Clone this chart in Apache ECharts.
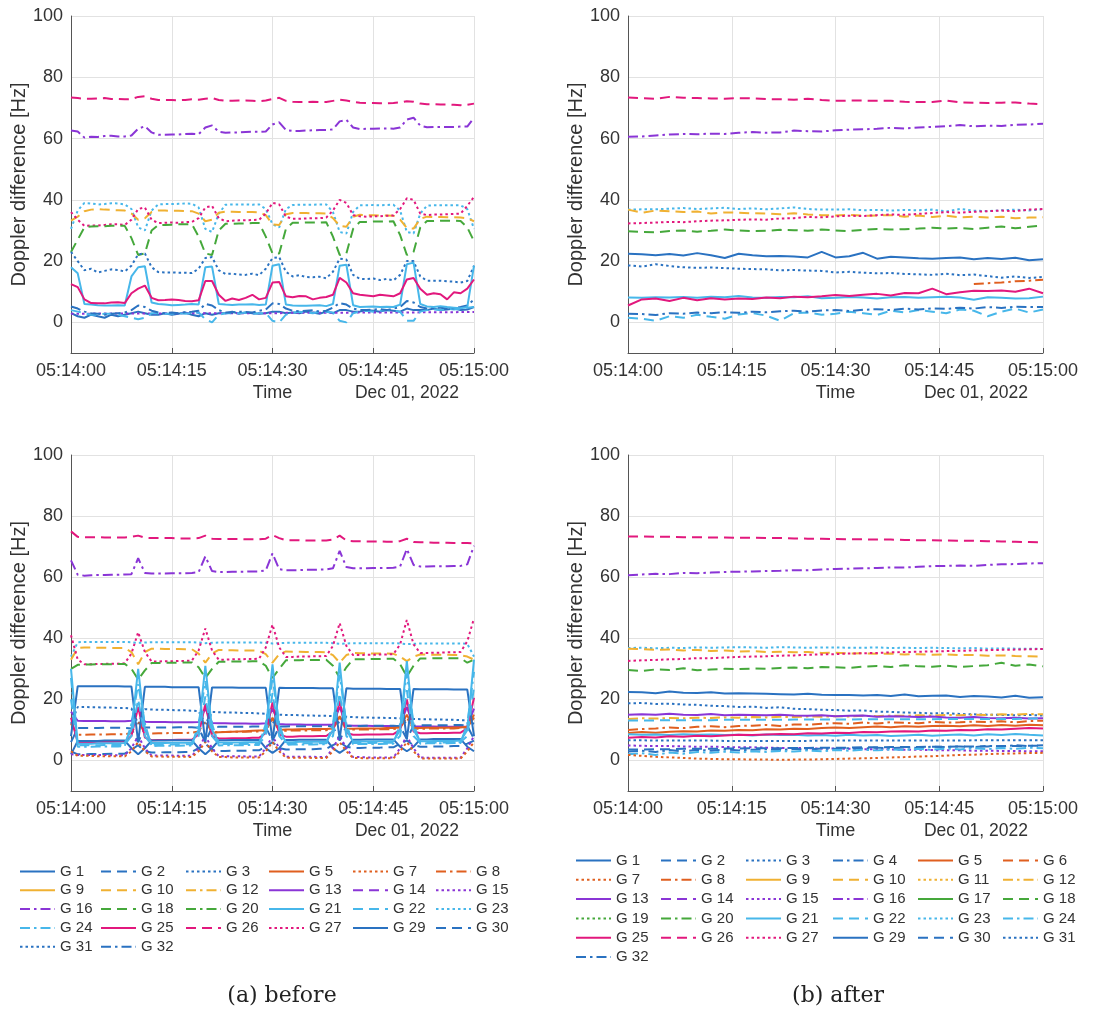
<!DOCTYPE html>
<html>
<head>
<meta charset="utf-8">
<script src="https://cdn.jsdelivr.net/npm/echarts@6/dist/echarts.min.js"></script>
<style>
  html, body { margin: 0; padding: 0; background: #ffffff; }
  #chart { width: 1105px; height: 1012px; }
</style>
</head>
<body>
<div id="chart"></div>
<script>
// Sample times in seconds after 05:14:00 (1 s epochs before, 2 s epochs after)
const secBefore = [0,1,2,3,4,5,6,7,8,9,10,11,12,13,14,15,16,17,18,19,20,21,22,23,24,25,26,27,28,29,30,
  31,32,33,34,35,36,37,38,39,40,41,42,43,44,45,46,47,48,49,50,51,52,53,54,55,56,57,58,59,60];
const secAfter = [0,2,4,6,8,10,12,14,16,18,20,22,24,26,28,30,32,34,36,38,40,42,44,46,48,50,52,54,56,58,60];

const timeTicks = ['05:14:00', '05:14:15', '05:14:30', '05:14:45', '05:15:00'];
const yTicks = [0, 20, 40, 60, 80, 100];
const dateLabel = 'Dec 01, 2022';
const captions = ['(a) before', '(b) after'];

// ---- (a) before, upper panel: Doppler difference [Hz] ----
const tlG26 = [73.4,73.2,73.0,73.0,73.1,73.2,72.9,72.9,72.8,72.9, 73.6,73.8,73.0,72.6,72.6,72.6,72.5,72.6,72.8,72.7, 73.0,73.2,72.6,72.3,72.3,72.4,72.4,72.3,72.2,72.4, 72.9,73.3,72.3,72.0,71.9,71.9,72.0,71.9,71.9,72.3, 72.7,72.4,72.0,71.7,71.6,71.6,71.5,71.5,71.6,71.8, 72.2,72.0,71.4,71.2,71.2,71.1,71.1,71.0,70.9,71.0, 71.4];
const tlG16 = [62.6,62.3,60.3,60.6,60.5,60.8,60.9,60.7,60.7,61.0, 63.2,64.0,62.0,61.2,61.2,61.3,61.3,61.5,61.6,61.4, 63.6,64.3,62.2,61.9,62.0,62.0,62.1,62.2,62.2,62.3, 64.6,65.3,62.8,62.5,62.5,62.6,62.7,62.8,62.8,63.0, 65.6,66.1,63.6,63.1,63.2,63.2,63.3,63.3,63.2,63.6, 66.2,66.8,64.2,63.7,63.8,63.8,63.8,63.8,63.9,63.9, 66.8];
const tlG23 = [30.5,36.5,39.0,38.8,38.5,38.6,38.9,38.8,38.5,37.0, 31.0,30.0,36.5,38.5,38.6,38.6,38.7,38.8,38.7,37.5, 30.5,29.5,35.5,38.4,38.5,38.5,38.5,38.4,38.5,37.0, 32.0,31.0,37.0,38.3,38.4,38.4,38.4,38.5,38.5,36.0, 29.5,29.0,36.0,38.2,38.2,38.3,38.2,38.3,38.4,36.5, 29.5,29.0,35.5,38.1,38.2,38.2,38.2,38.2,38.2,37.0, 30.5];
const tlG10 = [33.2,34.5,36.3,36.8,37.0,36.8,36.7,36.6,36.5,35.5, 33.5,34.0,36.0,36.5,36.5,36.4,36.4,36.3,36.3,35.5, 33.0,33.5,35.8,36.1,36.1,36.0,36.0,36.0,35.9,35.0, 32.0,31.8,35.3,35.7,35.7,35.7,35.6,35.6,35.5,34.0, 31.5,31.2,34.5,35.1,35.0,35.0,34.9,34.9,34.8,33.5, 30.8,30.6,33.8,34.5,34.4,34.4,34.3,34.3,34.2,34.0, 33.0];
const tlG27 = [36.0,33.5,31.5,31.6,31.6,31.8,32.0,32.0,31.8,33.5, 37.0,37.5,33.5,32.4,32.5,32.6,32.5,32.7,32.8,34.0, 37.5,38.0,34.0,33.0,33.2,33.3,33.3,33.4,33.5,35.5, 39.0,38.5,34.5,33.8,33.8,33.9,34.0,34.0,34.2,36.5, 40.0,39.0,35.0,34.6,34.5,34.6,34.6,34.8,34.9,37.0, 40.5,40.0,35.5,35.0,35.2,35.2,35.3,35.4,35.5,38.0, 41.0];
const tlG18 = [23.0,27.0,31.0,31.3,31.4,31.4,31.5,31.6,31.5,27.5, 22.0,22.5,30.0,31.8,31.8,31.9,32.0,32.0,32.1,28.0, 22.5,22.0,30.0,32.2,32.2,32.3,32.3,32.4,32.4,28.0, 22.5,22.5,30.5,32.5,32.5,32.6,32.6,32.6,32.7,28.0, 22.0,22.5,30.5,32.8,32.8,32.9,32.9,32.9,33.0,28.5, 22.0,23.0,31.0,33.1,33.1,33.2,33.2,33.2,33.1,31.0, 26.5];
const tlG31 = [23.0,20.0,17.0,17.5,16.3,16.8,17.3,17.1,16.6,18.5, 22.2,22.5,18.0,16.4,16.3,16.3,16.2,16.2,16.1,17.5, 21.0,21.3,17.0,15.8,15.9,15.6,15.5,15.9,15.4,17.5, 21.0,21.3,16.5,15.0,15.4,14.8,14.7,14.9,14.4,16.5, 20.8,20.5,15.5,14.2,14.1,14.3,13.8,14.2,13.7,15.5, 20.0,20.0,15.0,13.6,13.6,13.6,13.4,13.3,13.0,13.5, 18.5];
const tlG21 = [18.0,16.0,6.0,5.8,5.6,5.5,5.5,5.6,5.5,15.0, 18.0,18.3,6.5,6.0,5.8,5.6,5.7,5.8,6.0,5.8, 18.0,18.2,6.0,5.8,5.7,5.8,5.8,5.9,5.7,5.8, 18.5,19.0,5.8,5.5,5.4,5.4,5.5,5.6,5.3,6.0, 18.5,18.8,5.6,5.0,5.1,5.2,5.0,5.1,5.0,5.8, 19.0,19.5,6.0,5.2,5.0,5.3,5.0,4.8,4.6,5.0, 18.5];
const tlG25 = [12.5,11.5,7.5,6.3,6.2,6.2,6.5,6.6,6.3,9.5, 11.0,12.0,8.0,7.2,7.3,7.5,7.3,7.0,6.9,7.2, 13.5,13.5,9.0,7.0,7.8,7.3,8.0,9.0,7.5,8.0, 13.0,13.2,8.5,8.2,8.6,8.5,7.5,8.0,8.3,9.0, 14.5,13.0,9.5,9.0,8.8,8.5,9.0,8.8,8.5,9.5, 14.0,14.5,11.0,9.0,9.5,9.2,7.5,9.8,9.5,11.0, 14.0];
const tlG32 = [5.2,4.5,3.5,3.0,2.8,2.5,2.8,3.0,3.2,4.0, 5.5,5.0,3.8,3.2,3.0,3.2,3.0,3.3,3.5,3.8, 6.0,5.5,4.0,3.2,3.2,3.5,3.4,3.2,3.8,4.2, 6.2,6.0,4.5,3.8,3.6,3.8,4.0,3.5,3.8,4.8, 6.3,5.8,4.5,4.0,4.0,4.2,4.3,4.0,4.5,5.0, 7.0,6.5,5.0,4.5,4.8,4.8,4.5,4.6,5.0,5.5, 7.5];
const tlG15 = [2.8,2.8,2.8,2.8,2.9,2.9,2.9,2.9,2.9,2.9, 2.9,2.9,2.9,2.9,2.9,3.0,3.0,3.0,3.0,3.0, 3.0,3.0,3.0,3.0,3.0,3.0,3.0,3.0,3.0,3.0, 3.0,3.0,3.1,3.1,3.1,3.1,3.1,3.1,3.1,3.1, 3.1,3.1,3.2,3.2,3.2,3.2,3.2,3.2,3.2,3.2, 3.2,3.2,3.3,3.3,3.3,3.3,3.3,3.3,3.4,3.4, 3.4];
const tlG22 = [4.0,3.5,3.0,2.5,2.5,2.8,2.8,2.5,2.0,1.5, 1.0,1.5,3.0,3.0,2.8,2.8,3.0,2.8,3.0,3.2, 1.0,0.0,2.5,3.0,3.0,3.0,3.2,2.8,3.0,3.0, 0.5,0.0,2.5,3.2,3.5,3.2,3.0,3.5,3.5,3.2, 0.5,0.0,3.0,3.5,3.8,3.5,3.8,4.0,3.8,3.5, 0.5,0.5,3.5,4.0,4.2,4.0,4.5,4.2,4.5,4.8, 5.0];
const tlG1 = [3.0,2.0,1.5,2.5,2.0,1.5,2.5,2.0,2.5,3.0, 3.5,3.0,2.5,2.5,3.0,2.5,2.8,3.2,2.5,2.0, 3.0,2.5,3.0,3.0,3.5,2.8,3.2,3.0,2.8,3.0, 3.5,3.5,3.0,3.2,3.0,3.5,3.2,2.8,3.5,3.0, 4.0,4.0,3.5,3.5,4.0,3.8,3.5,4.0,3.8,3.5, 4.5,4.0,4.0,4.0,4.5,4.0,4.2,4.5,4.0,4.2, 5.0];

// ---- (a) before, lower panel ----
const blG26 = [75.0,73.2,73.1,73.1,73.1,73.0,73.0,73.0,73.0,73.2, 73.6,72.9,72.8,72.8,72.8,72.8,72.7,72.7,72.7,72.8, 73.6,72.6,72.5,72.5,72.5,72.5,72.4,72.4,72.4,72.6, 73.8,72.8,72.1,72.1,72.1,72.0,72.0,72.0,72.0,72.3, 73.6,72.0,71.8,71.8,71.7,71.7,71.7,71.6,71.6,71.8, 72.6,71.5,71.4,71.4,71.3,71.3,71.3,71.2,71.2,71.2, 71.1];
const blG16 = [65.5,60.8,60.5,60.6,60.7,60.7,60.8,60.8,60.9,61.0, 66.2,61.4,61.2,61.2,61.2,61.3,61.3,61.3,61.4,61.6, 66.8,62.0,61.7,61.7,61.8,61.8,61.8,61.9,61.9,62.2, 67.8,62.6,62.3,62.3,62.3,62.4,62.4,62.5,62.5,62.9, 68.6,63.3,62.9,62.9,62.9,63.0,63.0,63.0,63.1,63.5, 69.2,64.0,63.5,63.5,63.6,63.6,63.6,63.7,63.7,64.2, 70.3];
const blG23 = [34.0,38.7,38.8,38.8,38.8,38.8,38.8,38.8,38.8,38.7, 38.5,38.6,38.7,38.7,38.7,38.7,38.7,38.7,38.7,38.6, 38.4,38.5,38.6,38.6,38.6,38.6,38.6,38.6,38.6,38.5, 38.3,38.4,38.5,38.5,38.5,38.5,38.5,38.5,38.5,38.4, 38.2,38.3,38.4,38.4,38.4,38.4,38.4,38.4,38.4,38.3, 38.1,38.2,38.3,38.3,38.3,38.3,38.3,38.3,38.3,38.2, 34.0];
const blG10 = [33.0,36.8,37.0,37.0,36.9,36.9,36.8,36.8,36.8,35.5, 31.5,35.5,36.6,36.6,36.5,36.5,36.5,36.4,36.4,35.0, 32.0,35.0,36.2,36.1,36.1,36.0,36.0,36.0,35.9,34.8, 32.0,34.8,35.7,35.6,35.6,35.5,35.5,35.5,35.4,34.5, 32.0,34.5,35.2,35.1,35.1,35.0,35.0,35.0,34.9,34.0, 32.5,34.0,34.7,34.7,34.6,34.6,34.6,34.5,34.5,34.0, 33.0];
const blG27 = [41.0,33.0,31.5,31.5,31.6,31.6,31.7,31.7,31.8,35.0, 42.0,35.5,32.4,32.4,32.5,32.5,32.6,32.6,32.7,36.0, 43.2,36.0,33.0,33.0,33.1,33.1,33.2,33.2,33.3,37.0, 44.5,37.0,33.9,33.9,34.0,34.0,34.1,34.1,34.2,37.5, 45.0,37.5,34.5,34.5,34.6,34.6,34.7,34.7,34.8,38.0, 46.0,38.0,35.2,35.2,35.3,35.3,35.4,35.4,35.5,39.0, 46.5];
const blG18 = [30.0,31.3,31.4,31.4,31.5,31.5,31.5,31.6,31.6,30.0, 26.5,29.5,31.9,31.9,32.0,32.0,32.0,32.1,32.1,30.5, 27.0,30.0,32.3,32.3,32.4,32.4,32.4,32.5,32.5,31.0, 27.0,30.0,32.8,32.8,32.8,32.9,32.9,32.9,33.0,31.0, 27.0,30.5,33.1,33.1,33.2,33.2,33.2,33.3,33.3,31.5, 27.5,31.0,33.4,33.4,33.5,33.5,33.5,33.5,33.5,32.0, 33.0];
const blG29 = [8.0,24.3,24.3,24.3,24.3,24.3,24.3,24.3,24.2,24.2, 6.0,24.1,24.1,24.1,24.1,24.0,24.0,24.0,24.0,24.0, 6.0,23.9,23.9,23.9,23.9,23.8,23.8,23.8,23.8,23.8, 6.5,23.8,23.7,23.7,23.7,23.7,23.7,23.6,23.6,23.6, 7.0,23.6,23.5,23.5,23.5,23.5,23.5,23.4,23.4,23.4, 7.0,23.4,23.3,23.3,23.3,23.3,23.3,23.2,23.2,23.2, 8.0];
const blG31 = [12.0,17.5,17.5,17.4,17.4,17.3,17.3,17.2,17.2,17.0, 12.0,16.8,16.7,16.6,16.6,16.5,16.4,16.4,16.3,16.1, 12.0,15.9,15.8,15.7,15.7,15.6,15.5,15.5,15.4,15.3, 12.0,15.0,14.9,14.9,14.8,14.7,14.7,14.6,14.6,14.5, 12.0,14.3,14.2,14.1,14.1,14.0,14.0,13.9,13.9,13.8, 12.0,13.6,13.5,13.5,13.4,13.4,13.3,13.3,13.2,13.2, 12.0];
const blG13 = [16.0,13.0,12.9,12.9,12.9,12.9,12.8,12.8,12.8,13.0, 17.0,12.7,12.6,12.6,12.6,12.5,12.5,12.5,12.5,12.6, 17.0,12.3,12.2,12.2,12.1,12.1,12.1,12.0,12.0,12.2, 17.0,11.9,11.8,11.8,11.8,11.7,11.7,11.7,11.7,11.8, 17.5,11.5,11.4,11.4,11.4,11.3,11.3,11.3,11.3,11.4, 17.5,11.2,11.1,11.1,11.1,11.0,11.0,11.0,11.0,11.1, 17.0];
const blG30 = [6.0,10.6,10.6,10.6,10.6,10.7,10.7,10.7,10.7,10.5, 6.0,10.8,10.8,10.8,10.8,10.8,10.9,10.9,10.9,10.7, 6.0,10.9,11.0,11.0,11.0,11.0,11.0,11.1,11.1,10.9, 6.5,11.1,11.1,11.2,11.2,11.2,11.2,11.2,11.3,11.1, 6.5,11.3,11.3,11.3,11.4,11.4,11.4,11.4,11.4,11.2, 7.0,11.4,11.5,11.5,11.5,11.5,11.5,11.6,11.6,11.4, 7.0];
const blG8 = [12.0,8.4,8.4,8.5,8.5,8.5,8.6,8.6,8.6,9.0, 13.0,8.8,8.8,8.9,8.9,9.0,9.0,9.0,9.1,9.5, 13.0,9.2,9.3,9.3,9.4,9.4,9.4,9.5,9.5,10.0, 13.5,9.7,9.7,9.8,9.8,9.8,9.9,9.9,9.9,10.3, 14.0,10.0,10.1,10.1,10.1,10.2,10.2,10.2,10.3,10.6, 14.0,10.4,10.4,10.4,10.5,10.5,10.5,10.5,10.6,10.8, 14.0];
const blG5 = [null,null,null,null,null,null,null,null,null,null, null,null,null,null,null,null,null,null,null,null, null,9.0,9.2,9.3,9.4,9.5,9.6,9.7,9.8,9.9, 14.0,10.0,10.1,10.1,10.2,10.2,10.3,10.3,10.3,10.5, 14.5,10.4,10.4,10.5,10.5,10.5,10.5,10.6,10.6,10.8, 15.0,10.6,10.6,10.7,10.7,10.7,10.7,10.8,10.8,11.0, 15.0];
const blG25 = [14.0,6.0,6.0,6.0,6.1,6.1,6.1,6.2,6.2,8.0, 17.5,7.5,6.6,6.7,6.7,6.7,6.8,6.8,6.8,8.5, 18.5,8.0,7.2,7.2,7.3,7.3,7.3,7.4,7.4,9.0, 19.0,8.5,7.8,7.8,7.9,7.9,7.9,8.0,8.0,9.5, 19.5,9.0,8.4,8.4,8.5,8.5,8.5,8.6,8.6,10.0, 20.0,9.5,8.9,8.9,9.0,9.0,9.0,9.1,9.1,10.5, 20.5];
const blG21 = [30.0,5.5,5.5,5.5,5.6,5.6,5.6,5.6,5.7,10.0, 30.0,10.0,5.7,5.7,5.7,5.8,5.8,5.8,5.8,10.0, 31.0,10.0,5.9,5.9,5.9,5.9,6.0,6.0,6.0,10.0, 31.5,10.0,6.0,6.0,6.1,6.1,6.1,6.1,6.1,10.0, 32.0,10.0,6.2,6.2,6.2,6.2,6.3,6.3,6.3,10.0, 32.5,10.0,6.3,6.3,6.4,6.4,6.4,6.4,6.5,10.0, 33.0];
const blG24 = [27.0,4.5,4.5,4.5,4.6,4.6,4.6,4.6,4.7,12.0, 25.0,12.0,4.7,4.8,4.8,4.8,4.8,4.9,4.9,12.0, 26.0,12.0,4.9,5.0,5.0,5.0,5.0,5.1,5.1,12.0, 27.0,12.0,5.1,5.2,5.2,5.2,5.2,5.3,5.3,12.0, 28.0,12.0,5.3,5.4,5.4,5.4,5.4,5.5,5.5,12.0, 28.5,12.0,5.5,5.6,5.6,5.6,5.6,5.7,5.7,12.0, 29.0];
const blG22 = [20.0,5.0,5.0,5.0,5.0,5.1,5.1,5.1,5.1,8.0, 20.0,8.0,5.2,5.2,5.2,5.2,5.3,5.3,5.3,8.0, 21.0,8.0,5.3,5.4,5.4,5.4,5.4,5.5,5.5,8.0, 22.0,8.0,5.5,5.5,5.6,5.6,5.6,5.6,5.6,8.0, 22.0,8.0,5.7,5.7,5.7,5.7,5.8,5.8,5.8,8.0, 23.0,8.0,5.8,5.8,5.9,5.9,5.9,5.9,6.0,8.0, 24.0];
const blG1 = [2.0,6.4,6.4,6.4,6.4,6.5,6.5,6.5,6.5,4.0, 2.0,4.0,6.5,6.5,6.5,6.6,6.6,6.6,6.6,4.0, 2.0,4.0,6.6,6.6,6.7,6.7,6.7,6.7,6.7,4.0, 2.5,4.0,6.7,6.7,6.8,6.8,6.8,6.8,6.8,4.0, 2.5,4.0,6.8,6.8,6.9,6.9,6.9,6.9,6.9,4.5, 3.0,4.5,6.9,6.9,7.0,7.0,7.0,7.0,7.0,4.5, 3.0];
const blG2 = [3.0,2.0,2.0,2.1,2.1,2.1,2.2,2.2,2.2,3.5, 5.0,3.0,2.6,2.6,2.7,2.7,2.7,2.8,2.8,4.0, 5.5,3.5,3.1,3.1,3.2,3.2,3.2,3.3,3.3,4.5, 6.0,4.0,3.6,3.6,3.7,3.7,3.7,3.8,3.8,5.0, 6.0,4.5,4.1,4.1,4.2,4.2,4.2,4.3,4.3,5.5, 6.5,5.0,4.5,4.5,4.6,4.6,4.6,4.7,4.7,5.5, 6.5];
const blG15 = [2.0,1.8,1.8,1.8,1.8,1.8,1.7,1.7,1.7,4.0, 8.0,4.0,1.6,1.6,1.6,1.6,1.5,1.5,1.5,4.0, 8.0,4.0,1.4,1.4,1.4,1.4,1.3,1.3,1.3,4.0, 8.0,4.0,1.2,1.2,1.2,1.2,1.2,1.1,1.1,4.0, 8.0,4.0,1.1,1.1,1.0,1.0,1.0,1.0,1.0,4.0, 8.0,4.0,1.0,0.9,0.9,0.9,0.9,0.9,0.9,4.0, 8.0];
const blG7 = [3.0,1.5,1.5,1.5,1.4,1.4,1.4,1.4,1.3,3.0, 6.0,3.0,1.3,1.3,1.2,1.2,1.2,1.2,1.1,3.0, 6.0,3.0,1.1,1.1,1.0,1.0,1.0,1.0,1.0,3.0, 6.0,3.0,0.9,0.9,0.9,0.9,0.8,0.8,0.8,3.0, 6.0,3.0,0.8,0.8,0.7,0.7,0.7,0.7,0.7,3.0, 6.0,3.0,0.7,0.6,0.6,0.6,0.6,0.6,0.6,3.0, 6.0];

// ---- (b) after, upper panel ----
const trG26 = [73.4,73.2,73.0,73.6,73.3,73.2,73.1,73.0,73.2,73.1, 72.9,72.8,72.7,73.0,72.6,72.3,72.4,72.4,72.3,72.3, 72.0,71.9,71.9,72.4,71.8,71.7,71.6,71.7,71.8,71.4, 71.2];
const trG16 = [60.6,60.7,61.0,61.3,61.5,61.4,61.6,61.5,61.9,62.1, 61.9,62.0,62.6,62.4,62.3,62.7,62.9,63.0,63.2,63.5, 63.3,63.6,63.8,64.0,64.4,64.0,64.2,64.1,64.5,64.6, 64.8];
const trG23 = [36.8,36.9,36.9,37.1,37.3,37.0,37.2,37.4,37.0,37.2, 36.9,37.2,37.5,37.0,36.8,36.8,36.9,36.6,36.7,36.5, 36.7,36.6,36.8,36.2,37.0,36.5,36.3,36.6,36.8,36.5, 37.0];
const trG10 = [36.8,35.8,36.5,36.3,36.0,36.2,35.5,35.9,35.8,35.6, 35.5,35.3,35.6,35.2,35.0,34.9,35.1,34.8,34.9,35.0, 34.5,34.9,34.4,34.8,34.3,34.5,34.2,34.5,34.0,34.2, 34.3];
const trG27 = [32.3,32.4,32.6,32.8,32.7,33.0,33.2,33.3,33.5,33.6, 33.5,33.9,34.0,34.4,34.3,34.6,34.8,34.7,35.0,35.2, 35.1,35.4,35.7,36.0,35.8,36.1,36.3,36.5,36.3,36.8, 37.0];
const trG18 = [29.7,29.5,29.4,29.8,30.0,29.6,29.9,30.3,30.0,29.8, 29.9,30.2,30.1,29.9,30.3,30.0,29.8,30.2,30.5,30.3, 30.4,30.6,30.9,30.6,30.8,30.5,30.9,31.3,30.7,31.2, 31.6];
const trG29 = [22.4,22.2,21.9,22.3,21.8,22.6,21.9,21.0,22.4,21.9, 21.6,21.7,21.5,21.2,23.0,21.2,21.6,22.7,20.8,21.4, 21.2,20.9,20.8,21.0,21.2,20.6,21.0,20.7,21.1,20.3, 20.6];
const trG31 = [18.6,18.2,19.0,18.4,18.0,17.8,17.9,17.7,17.5,17.4, 17.3,17.0,17.1,16.9,16.8,16.3,16.5,16.2,16.0,16.1, 15.8,15.7,15.5,15.9,15.4,15.6,15.1,14.6,15.0,14.5, 14.8];
const trG8 = [null,null,null,null,null,null,null,null,null,null, null,null,null,null,null,null,null,null,null,null, null,null,null,null,null,12.5,12.8,13.0,13.4,13.6, 13.9];
const trG25 = [5.5,7.5,7.8,7.0,8.0,7.2,7.9,7.5,7.8,7.6, 8.1,7.9,8.4,8.2,8.5,8.9,8.6,9.0,9.3,8.8, 9.6,9.5,11.0,9.2,9.8,10.3,10.2,10.4,10.0,11.0, 9.5];
const trG21 = [8.1,8.0,8.2,8.1,8.3,8.0,8.4,8.2,8.6,8.1, 8.0,8.3,8.2,8.5,7.9,8.0,8.3,8.1,7.8,8.2, 8.3,8.0,8.2,8.4,8.1,7.4,8.2,8.0,7.8,7.9, 8.4];
const trG32 = [2.8,2.7,2.4,3.0,2.8,3.2,3.0,3.3,3.1,3.5, 3.3,3.6,3.8,3.5,3.9,4.0,3.7,4.1,4.3,4.0, 4.5,4.2,4.6,4.4,4.8,4.5,5.0,4.7,5.1,5.0, 5.0];
const trG22 = [1.5,1.2,0.5,2.0,1.5,2.5,1.8,1.2,2.6,3.0, 2.2,0.5,3.0,3.2,2.5,2.8,3.5,3.0,2.4,3.8, 3.2,4.0,3.5,3.0,4.2,3.8,2.0,3.5,4.5,3.2, 4.2];

// ---- (b) after, lower panel ----
const brG26 = [73.3,73.3,73.2,73.2,73.1,73.1,73.0,73.0,72.9,72.9, 72.8,72.8,72.7,72.6,72.6,72.5,72.4,72.4,72.3,72.3, 72.2,72.1,72.1,72.0,71.9,71.9,71.8,71.7,71.6,71.5, 71.4];
const brG16 = [60.6,60.9,61.1,61.0,61.4,61.3,61.5,61.7,61.8,61.9, 62.0,62.1,62.3,62.3,62.5,62.7,62.8,62.9,63.0,63.2, 63.2,63.4,63.6,63.7,63.8,63.7,64.0,64.2,64.3,64.5, 64.6];
const brG23 = [36.8,36.9,36.7,36.9,36.8,37.0,36.9,37.0,37.1,37.0, 36.9,37.1,37.0,36.9,37.0,37.0,36.9,36.9,37.0,36.8, 36.9,36.8,36.9,36.8,36.7,36.8,36.6,36.7,36.6,36.6, 36.5];
const brG10 = [36.6,36.4,36.2,36.3,36.0,36.2,35.8,36.0,35.7,35.8, 35.5,35.6,35.4,35.5,35.2,35.3,35.0,35.1,34.9,35.0, 34.7,34.8,34.6,34.7,34.5,34.5,34.3,34.4,34.2,34.1, 34.0];
const brG27 = [32.6,32.8,32.9,33.1,33.2,33.5,33.5,33.7,33.9,34.0, 34.1,34.3,34.4,34.6,34.7,34.8,35.0,35.1,35.2,35.4, 35.5,35.6,35.7,35.8,35.9,36.0,36.1,36.2,36.3,36.4, 36.5];
const brG18 = [29.6,29.3,29.8,29.6,30.2,29.5,29.8,30.0,29.9,30.1, 30.0,30.3,30.4,30.2,30.6,30.5,30.3,30.7,30.9,30.6, 31.2,30.8,30.7,31.0,30.6,30.9,31.2,32.0,31.0,31.4, 30.8];
const brG29 = [22.4,22.3,22.0,22.6,22.2,22.1,22.3,21.9,22.0,21.9, 21.8,21.7,21.6,21.8,21.5,21.4,21.4,21.3,21.4,21.1, 21.6,21.0,21.2,21.3,20.8,21.1,20.9,20.6,21.2,20.5, 20.7];
const brG31 = [18.7,18.8,18.5,18.6,18.3,18.2,17.9,17.8,17.5,17.6, 17.2,17.4,16.9,16.8,16.6,16.5,16.3,16.4,16.0,15.9, 15.7,15.6,15.4,15.5,15.2,15.1,15.0,14.9,14.8,14.9, 14.7];
const brG13 = [15.0,15.1,15.0,15.3,15.0,14.9,15.2,14.8,15.0,14.9, 14.8,15.0,14.7,14.6,14.8,14.5,14.6,14.7,14.3,14.5, 14.4,14.2,14.4,14.1,14.0,14.2,13.9,13.8,14.0,13.7, 13.8];
const brG12 = [13.6,13.8,13.7,13.9,13.8,14.0,13.9,14.1,14.0,14.2, 14.1,14.3,14.2,14.4,14.3,14.5,14.4,14.6,14.5,14.7, 14.6,14.8,14.7,14.9,14.8,15.0,14.9,15.1,15.0,15.2, 15.1];
const brG22 = [13.1,13.1,13.1,13.2,13.2,13.2,13.2,13.3,13.3,13.3, 13.3,13.3,13.4,13.4,13.4,13.4,13.4,13.5,13.5,13.5, 13.5,13.5,13.5,13.6,13.6,13.6,13.6,13.6,13.6,13.7, 13.7];
const brG8 = [10.0,10.3,10.5,10.8,10.6,11.0,11.2,10.9,11.3,11.4, 11.6,11.3,11.8,11.7,12.0,12.2,12.0,12.4,12.1,12.5, 12.3,12.2,12.6,12.4,12.5,12.7,12.6,12.8,12.5,12.9, 13.0];
const brG5 = [9.0,9.3,9.1,9.4,9.6,9.5,9.8,9.7,10.0,9.9, 10.2,10.1,10.4,10.3,10.6,10.8,10.6,10.9,11.1,10.9, 11.2,11.0,11.3,11.4,11.2,11.5,11.3,11.6,11.4,11.7, 11.5];
const brG25 = [7.4,7.7,7.5,7.9,7.8,8.1,7.9,8.2,8.4,8.3, 8.5,8.7,8.6,8.9,8.8,9.1,9.0,9.3,9.2,9.5, 9.6,9.5,9.8,9.7,10.0,9.9,10.2,10.1,10.4,10.6, 10.5];
const brG21 = [8.6,8.4,8.5,8.3,8.6,8.4,8.5,8.3,8.4,8.2, 8.5,8.3,8.4,8.2,8.3,8.1,8.4,8.2,8.3,8.0, 8.2,8.4,8.1,8.3,8.5,8.2,8.6,8.3,8.7,8.4, 8.2];
const brG3 = [6.6,6.6,6.5,6.5,6.5,6.5,6.5,6.4,6.4,6.4, 6.4,6.4,6.4,6.4,6.5,6.5,6.5,6.5,6.5,6.5, 6.5,6.5,6.5,6.5,6.5,6.6,6.6,6.6,6.6,6.6, 6.6];
const brG15 = [4.9,4.8,4.7,4.7,4.6,4.5,4.5,4.4,4.3,4.3, 4.2,4.1,4.1,4.0,3.9,3.9,3.8,3.7,3.7,3.6, 3.5,3.5,3.4,3.3,3.3,3.2,3.2,3.1,3.1,3.0, 3.0];
const brG30 = [3.6,3.6,3.7,3.7,3.8,3.8,3.8,3.9,3.9,4.0, 4.0,4.0,4.1,4.1,4.2,4.2,4.2,4.3,4.3,4.4, 4.4,4.4,4.5,4.5,4.6,4.6,4.6,4.7,4.7,4.8, 4.8];
const brG32 = [2.9,3.2,2.8,3.4,3.0,3.5,3.2,3.6,3.3,3.5, 3.7,3.4,3.8,3.6,3.9,3.8,4.0,3.9,4.2,4.0, 4.3,4.1,4.5,4.4,4.6,4.3,4.8,4.6,5.0,4.7, 5.0];
const brG24 = [2.0,2.4,1.8,2.6,2.2,2.8,2.5,2.9,2.6,3.0, 2.8,3.1,2.9,3.3,3.0,3.4,3.2,3.5,3.3,3.6, 3.4,3.8,3.5,3.9,3.6,4.0,3.7,4.1,3.8,4.2, 4.0];
const brG7 = [1.8,1.5,1.2,1.0,0.8,0.6,0.5,0.4,0.4,0.3, 0.3,0.2,0.3,0.3,0.4,0.5,0.6,0.7,0.8,1.0, 1.1,1.3,1.4,1.6,1.8,1.9,2.1,2.2,2.3,2.4, 2.5];

// Legend columns (read top to bottom, columns left to right)
const legendBefore = [
  ['G 1', 'G 9', 'G 16', 'G 24', 'G 31'],
  ['G 2', 'G 10', 'G 18', 'G 25', 'G 32'],
  ['G 3', 'G 12', 'G 20', 'G 26'],
  ['G 5', 'G 13', 'G 21', 'G 27'],
  ['G 7', 'G 14', 'G 22', 'G 29'],
  ['G 8', 'G 15', 'G 23', 'G 30']
];
const legendAfter = [
  ['G 1', 'G 7', 'G 13', 'G 19', 'G 25', 'G 32'],
  ['G 2', 'G 8', 'G 14', 'G 20', 'G 26'],
  ['G 3', 'G 9', 'G 15', 'G 21', 'G 27'],
  ['G 4', 'G 10', 'G 16', 'G 22', 'G 29'],
  ['G 5', 'G 11', 'G 17', 'G 23', 'G 30'],
  ['G 6', 'G 12', 'G 18', 'G 24', 'G 31']
];

// Panel layout (pixels) and which satellites each one carries
const FONT = '"Liberation Sans", Arial, Helvetica, sans-serif';
const TEXT = '#333333';
const AXIS = '#555555';
const GRIDLINE = '#e2e2e2';

const grids = [
  { left: 71, top: 16, width: 403, height: 337 },
  { left: 628, top: 16, width: 415, height: 337 },
  { left: 71, top: 455, width: 403, height: 336 },
  { left: 628, top: 455, width: 415, height: 336 }
];

const panels = [
  { t: secBefore, lines: [
    ['G 26', tlG26], ['G 16', tlG16], ['G 23', tlG23], ['G 10', tlG10], ['G 27', tlG27],
    ['G 18', tlG18], ['G 31', tlG31], ['G 1', tlG1], ['G 15', tlG15], ['G 22', tlG22],
    ['G 32', tlG32], ['G 21', tlG21], ['G 25', tlG25]
  ]},
  { t: secAfter, lines: [
    ['G 26', trG26], ['G 16', trG16], ['G 23', trG23], ['G 10', trG10], ['G 27', trG27],
    ['G 18', trG18], ['G 29', trG29], ['G 31', trG31], ['G 8', trG8], ['G 21', trG21],
    ['G 25', trG25], ['G 22', trG22], ['G 32', trG32]
  ]},
  { t: secBefore, lines: [
    ['G 26', blG26], ['G 16', blG16], ['G 23', blG23], ['G 10', blG10], ['G 27', blG27],
    ['G 18', blG18], ['G 31', blG31], ['G 13', blG13], ['G 30', blG30], ['G 8', blG8],
    ['G 5', blG5], ['G 25', blG25], ['G 1', blG1], ['G 2', blG2], ['G 15', blG15],
    ['G 7', blG7], ['G 29', blG29], ['G 24', blG24], ['G 22', blG22], ['G 21', blG21],
    ['G 3', []], ['G 9', []], ['G 12', []], ['G 14', []], ['G 20', []]
  ]},
  { t: secAfter, lines: [
    ['G 26', brG26], ['G 16', brG16], ['G 23', brG23], ['G 10', brG10], ['G 27', brG27],
    ['G 18', brG18], ['G 29', brG29], ['G 31', brG31], ['G 12', brG12], ['G 13', brG13],
    ['G 22', brG22], ['G 5', brG5], ['G 8', brG8], ['G 21', brG21], ['G 25', brG25],
    ['G 3', brG3], ['G 15', brG15], ['G 30', brG30], ['G 32', brG32], ['G 24', brG24],
    ['G 7', brG7],
    ['G 1', []], ['G 2', []], ['G 4', []], ['G 6', []], ['G 9', []], ['G 11', []],
    ['G 14', []], ['G 17', []], ['G 19', []], ['G 20', []]
  ]}
];

// Colour cycles every four PRNs; line style cycles within each group of four
const prnColors = ['#2a72c1', '#e05f1f', '#f0b132', '#8a35d6', '#45a83b', '#47b7ea', '#e2187d'];
const dashTypes = ['solid', [10, 6], [2.5, 3], [10, 4, 2.5, 4]];
function styleOf(name) {
  const prn = parseInt(name.slice(2), 10);
  return { color: prnColors[Math.floor((prn - 1) / 4) % 7], type: dashTypes[(prn - 1) % 4] };
}

const xAxes = grids.map((g, i) => ({
  type: 'value', gridIndex: i, min: 0, max: 60, interval: 15,
  name: 'Time', nameLocation: 'middle', nameGap: 31,
  nameTextStyle: { fontFamily: FONT, fontSize: 18, color: TEXT },
  axisLine: { onZero: false, lineStyle: { color: AXIS, width: 1 } },
  axisTick: { inside: true, length: 5, lineStyle: { color: AXIS } },
  axisLabel: { formatter: v => timeTicks[Math.round(v / 15)], fontFamily: FONT, fontSize: 18, color: TEXT, margin: 9 },
  splitLine: { show: true, lineStyle: { color: GRIDLINE, width: 1 } }
}));

const yAxes = grids.map((g, i) => ({
  type: 'value', gridIndex: i, min: -10, max: 100, interval: 10,
  name: 'Doppler difference [Hz]', nameLocation: 'middle', nameGap: 40,
  nameTextStyle: { fontFamily: FONT, fontSize: 20, color: TEXT },
  axisLine: { show: true, lineStyle: { color: AXIS, width: 1 } },
  axisTick: { show: false },
  axisLabel: { formatter: v => (yTicks.indexOf(v) >= 0 ? String(v) : ''), fontFamily: FONT, fontSize: 18, color: TEXT, margin: 8 },
  // grid lines only on the labelled (every 20 Hz) ticks
  splitLine: { show: true, lineStyle: { color: ['rgba(0,0,0,0)', GRIDLINE], width: 1 } }
}));

const series = [];
panels.forEach((p, i) => {
  p.lines.forEach(([name, values]) => {
    const st = styleOf(name);
    series.push({
      type: 'line', name, xAxisIndex: i, yAxisIndex: i,
      symbol: 'none', showSymbol: false, silent: true,
      data: values.map((v, k) => [p.t[k], v]),
      lineStyle: { color: st.color, width: 2, type: st.type },
      itemStyle: { color: st.color },
      emphasis: { disabled: true }
    });
  });
});

// Legend keys show only the line sample (no marker)
function legendBlock(cols, xs, top, gap) {
  return cols.map((col, c) => ({
    orient: 'vertical', left: xs[c], top, padding: 0,
    itemWidth: 35, itemHeight: 14, itemGap: gap,
    selectedMode: false, data: col,
    itemStyle: { color: 'rgba(0,0,0,0)', borderColor: 'rgba(0,0,0,0)', borderWidth: 0, opacity: 0 },
    textStyle: { fontFamily: FONT, fontSize: 15, color: TEXT }
  }));
}
const legends = [].concat(
  legendBlock(legendBefore, [19, 100, 185, 268, 352, 435], 864, 3.8),
  legendBlock(legendAfter, [575, 660, 745, 832, 917, 1002], 853, 4.3)
);

const graphics = [];
grids.forEach(g => {
  graphics.push({
    type: 'text', x: g.left + g.width - 15, y: g.top + g.height + 40,
    style: { text: dateLabel, fill: TEXT, font: '17.5px ' + FONT, align: 'right', verticalAlign: 'middle', textAlign: 'right', textVerticalAlign: 'middle' }
  });
});
[[282, 996], [838, 996]].forEach((pos, i) => {
  graphics.push({
    type: 'text', x: pos[0], y: pos[1],
    style: { text: captions[i], fill: '#222222', font: '22px "DejaVu Serif", serif', align: 'center', verticalAlign: 'middle', textAlign: 'center', textVerticalAlign: 'middle' }
  });
});

const chart = echarts.init(document.getElementById('chart'), null, { renderer: 'canvas' });
chart.setOption({
  animation: false,
  backgroundColor: '#ffffff',
  grid: grids,
  xAxis: xAxes,
  yAxis: yAxes,
  legend: legends,
  graphic: graphics,
  series: series
});
</script>
</body>
</html>
